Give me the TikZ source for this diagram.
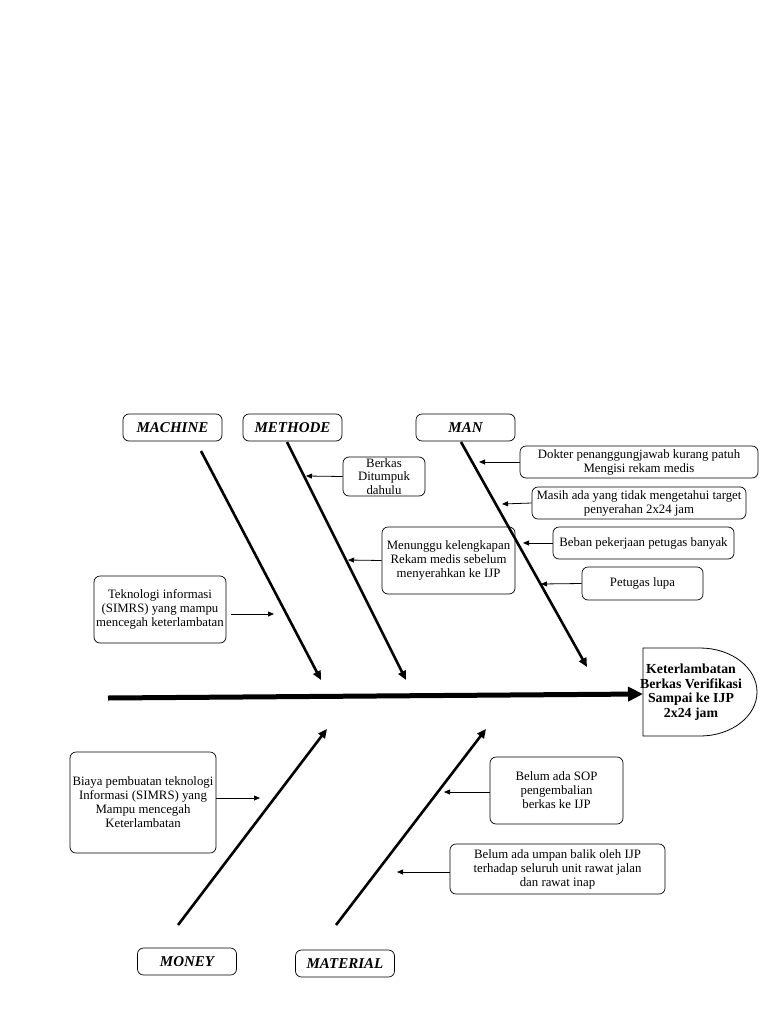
\documentclass[tikz,border=0pt]{standalone}
\usepackage{fontspec}
\setmainfont{Liberation Serif}
\usetikzlibrary{arrows.meta}
\begin{document}
\begin{tikzpicture}[x=1pt,y=-1pt,
 box/.style={draw, rounded corners=6pt, line width=0.7pt, align=center, inner sep=0pt, font=\fontsize{12.8}{14}\selectfont},
 cat/.style={box, font=\fontsize{15}{15}\selectfont\bfseries\itshape, minimum width=99pt, minimum height=27pt},
 bone/.style={line width=2.6pt, -{Triangle[length=9pt,width=8pt]}},
 cause/.style={line width=0.8pt, -{Triangle[length=6pt,width=5pt]}},
]
\useasboundingbox[fill=white] (0,0) rectangle (768,1024);

% category labels
\node[cat] (machine) at (172.5,427.5) {MACHINE};
\node[cat] (methode) at (292.5,427.5) {METHODE};
\node[cat] (man) at (465.5,427.5) {MAN};
\node[cat] (money) at (187,961.5) {MONEY};
\node[cat] (material) at (345,963.5) {MATERIAL};

% head
\node[align=center, inner sep=0pt, minimum width=114pt, minimum height=88pt, font=\fontsize{13.8}{14.5}\selectfont\bfseries] (head) at (691,692) {Keterlambatan\\Berkas Verifikasi\\Sampai ke IJP\\2x24 jam};
\draw[line width=0.8pt] (643,648) -- (700,648) .. controls (731.5,648) and (757,667.7) .. (757,692) .. controls (757,716.3) and (731.5,736) .. (700,736) -- (643,736) -- cycle;

% spine
\coordinate (tail) at (108,698);
\coordinate (spineend) at (643,694);
\draw[line width=5pt, -{Triangle[length=15pt,width=14pt]}] (tail) -- (spineend);

% bones
\coordinate (m1s) at (201,451); \coordinate (m1e) at (321,680);
\coordinate (m2s) at (287,442); \coordinate (m2e) at (406,680);
\coordinate (m3s) at (461,442); \coordinate (m3e) at (587,667);
\coordinate (m4s) at (178,925); \coordinate (m4e) at (327,729);
\coordinate (m5s) at (336,925); \coordinate (m5e) at (486,729);
\draw[bone] (m1s) -- (m1e);
\draw[bone] (m2s) -- (m2e);
\draw[bone] (m3s) -- (m3e);
\draw[bone] (m4s) -- (m4e);
\draw[bone] (m5s) -- (m5e);

% causes
\node[box, minimum width=82pt, minimum height=39pt, font=\fontsize{12.8}{13.5}\selectfont] (berkas) at (384,476.5) {Berkas\\Ditumpuk\\dahulu};
\node[box, minimum width=238pt, minimum height=32pt] (dokter) at (639,462) {Dokter penanggungjawab kurang patuh\\Mengisi rekam medis};
\node[box, minimum width=214pt, minimum height=32pt] (masih) at (639,503) {Masih ada yang tidak mengetahui target\\penyerahan 2x24 jam};
\node[box, minimum width=181pt, minimum height=32pt] (beban) at (643.5,543) {Beban pekerjaan petugas banyak};
\node[box, minimum width=121pt, minimum height=33pt] (lupa) at (642.5,583.5) {Petugas lupa};
\node[box, minimum width=133pt, minimum height=67pt] (menunggu) at (448.5,560.5) {Menunggu kelengkapan\\Rekam medis sebelum\\menyerahkan ke IJP};
\node[box, minimum width=132pt, minimum height=67pt] (tekno) at (160,609.5) {Teknologi informasi\\(SIMRS) yang mampu\\mencegah keterlambatan};
\node[box, minimum width=146pt, minimum height=101pt] (biaya) at (143,802.5) {Biaya pembuatan teknologi\\Informasi (SIMRS) yang\\Mampu mencegah\\Keterlambatan};
\node[box, minimum width=133pt, minimum height=67pt] (sop) at (556.5,790.5) {Belum ada SOP\\pengembalian\\berkas ke IJP};
\node[box, minimum width=215pt, minimum height=50pt] (umpan) at (557.5,869) {Belum ada umpan balik oleh IJP\\terhadap seluruh unit rawat jalan\\dan rawat inap};

\coordinate (a1) at (306,476);
\coordinate (a2) at (479,462);
\coordinate (a3) at (502,504);
\coordinate (a4) at (523,543);
\coordinate (a5) at (541,584);
\coordinate (a6) at (348,560);
\coordinate (a7s) at (231,614); \coordinate (a7) at (274,614);
\coordinate (a8) at (260,798);
\coordinate (a9) at (444,792);
\coordinate (a10) at (397,872);

\draw[cause] (berkas.west) -- (a1);
\draw[cause] (dokter.west) -- (a2);
\draw[cause] (masih.west) -- (a3);
\draw[cause] (beban.west) -- (a4);
\draw[cause] (lupa.west) -- (a5);
\draw[cause] (menunggu.west) -- (a6);
\draw[cause] (a7s) -- (a7);
\draw[cause] (biaya.east |- a8) -- (a8);
\draw[cause] (sop.west |- a9) -- (a9);
\draw[cause] (umpan.west |- a10) -- (a10);
\end{tikzpicture}
\end{document}
